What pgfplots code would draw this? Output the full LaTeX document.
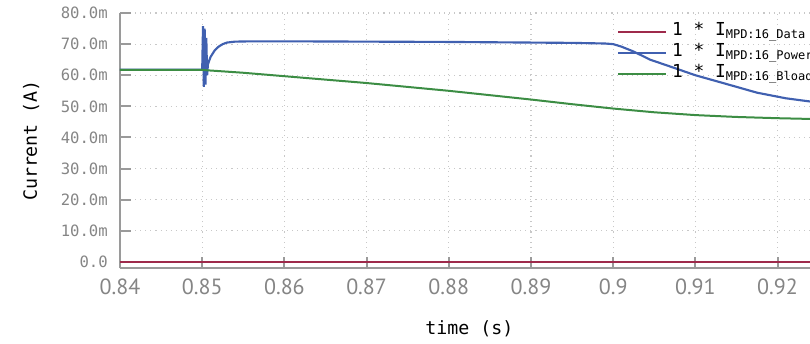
\documentclass[border=0pt]{standalone}
\usepackage{fontspec}
\setmainfont{PT Sans}
\setmonofont{DejaVu Sans Mono}
\newfontfamily\ptsans{PT Sans}
\usepackage{pgfplots}
\pgfplotsset{compat=1.18}
\definecolor{cred}{HTML}{9E2A4B}
\definecolor{cblue}{HTML}{4060B0}
\definecolor{cgreen}{HTML}{3C8D44}
\definecolor{tickgray}{HTML}{858585}
\definecolor{axgray}{HTML}{9A9A9A}
\definecolor{gridgray}{HTML}{C8C8C8}
\newcommand{\lsub}[1]{\raisebox{-0.3ex}{\fontsize{9}{10}\selectfont #1}}
\begin{document}
\begin{tikzpicture}
\useasboundingbox (-90pt,-56.25pt) rectangle (517.5pt,201pt);
\clip (-90pt,-56.25pt) rectangle (517.5pt,201pt);
\begin{axis}[
  at={(0,0)}, anchor=south west,
  scale only axis, width=524pt, height=191.25pt,
  xmin=0.84, xmax=0.925, ymin=-1.93, ymax=80,
  axis x line=bottom, axis y line=left,
  axis line style={-, axgray, line width=1.5pt},
  tick align=inside,
  major tick length=8pt,
  tick style={axgray, line width=1.5pt},
  grid=major,
  grid style={dash pattern=on 0.8pt off 3pt, gridgray, line width=0.8pt},
  xtick={0.84,0.85,0.86,0.87,0.88,0.89,0.9,0.91,0.92},
  xticklabels={0.84,0.85,0.86,0.87,0.88,0.89,0.9,0.91,0.92},
  ytick={0,10,20,30,40,50,60,70,80},
  yticklabels={0.0,10.0m,20.0m,30.0m,40.0m,50.0m,60.0m,70.0m,80.0m},
  xticklabel style={font=\ptsans\fontsize{16.5}{18}\selectfont, text=tickgray, inner sep=0pt, anchor=north, yshift=-8pt},
  yticklabel style={font=\ttfamily\fontsize{11.7}{13}\selectfont, text=tickgray, inner sep=0pt, anchor=east, xshift=-9pt},
  /pgf/number format/assume math mode=true,
  xlabel={time (s)},
  ylabel={Current (A)},
  xlabel style={font=\ttfamily\fontsize{13.7}{15}\selectfont, at={(axis description cs:0.5,0)}, anchor=base, yshift=-50pt},
  ylabel style={font=\ttfamily\fontsize{13.7}{15}\selectfont, at={(axis description cs:-0.1188,0.5)}, rotate=0, anchor=base},
  legend style={at={(axis description cs:0.7113,0.965)}, anchor=north west, draw=none, fill=none,
    font=\ttfamily\fontsize{13.4}{15}\selectfont, inner sep=0pt, row sep=1.5pt,
    nodes={inner sep=0pt, text height=10pt, text depth=4.25pt}},
  legend cell align=left,
  legend image code/.code={\draw[#1] (0pt,0pt) -- (36pt,0pt);},
]
\addplot[cred, line width=1.5pt] coordinates {(0.84,0) (0.925,0)};
\addlegendentry{\hspace{3.5pt}1 * I\lsub{MPD:16\_Data}}
\addplot[cblue, line width=1.6pt] coordinates {
(0.84,61.8) (0.85,61.8) (0.8501,75.8) (0.8502,56.3) (0.8503,75) (0.8504,57) (0.8505,72) (0.8506,60)
(0.8507,63.5) (0.851,65.8) (0.8515,67.9) (0.852,69.2) (0.8525,70.0) (0.853,70.5) (0.854,70.8)
(0.856,70.9) (0.86,70.9) (0.87,70.8) (0.88,70.7) (0.89,70.5) (0.895,70.4) (0.899,70.2) (0.9,70.0)
(0.901,69.2) (0.9025,67.6) (0.9045,65.0) (0.9065,63.2) (0.91,60.0) (0.9135,57.4) (0.9175,54.4)
(0.921,52.6) (0.925,51.2)};
\addlegendentry{\hspace{3.5pt}1 * I\lsub{MPD:16\_Power}}
\addplot[cgreen, line width=1.5pt] coordinates {
(0.84,61.7) (0.85,61.7) (0.855,60.8) (0.86,59.7) (0.87,57.5) (0.88,55.0) (0.89,52.2) (0.895,50.7)
(0.9,49.3) (0.905,48.1) (0.91,47.2) (0.915,46.6) (0.92,46.2) (0.925,45.9)};
\addlegendentry{\hspace{3.5pt}1 * I\lsub{MPD:16\_Bload}}
\end{axis}
\end{tikzpicture}
\end{document}
